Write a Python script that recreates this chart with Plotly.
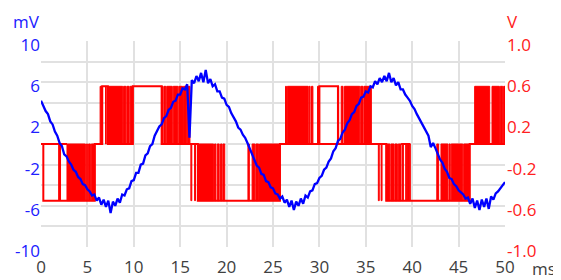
import plotly.graph_objects as go

# ---------------- data ----------------
# blue trace (mV), sampled every 0.25 ms from 0 to 50 ms
blue_dt = 0.25
blue_mv = [
    4.2, 3.7, 3.2, 2.9, 2.2, 1.9, 1.2, 0.8, 0.1, -0.2,
    -1.0, -1.2, -1.7, -2.0, -2.5, -2.7, -3.2, -3.4, -3.9, -4.0,
    -4.4, -4.6, -5.0, -4.9, -5.5, -5.2, -5.9, -5.4, -6.1, -5.5,
    -6.7, -5.6, -6.0, -5.3, -5.7, -4.9, -5.0, -4.4, -4.3, -3.6,
    -3.5, -2.8, -2.8, -2.0, -1.9, -1.1, -0.9, -0.2, 0.0, 0.8,
    1.2, 1.7, 1.9, 2.5, 2.7, 3.3, 3.5, 4.1, 4.2, 4.8,
    4.8, 5.4, 5.3, 5.8, 0.6, 6.2, 5.9, 6.6, 6.1, 6.9,
    6.0, 7.2, 5.9, 6.3, 5.6, 5.8, 5.1, 5.1, 4.5, 4.4,
    3.8, 3.6, 3.0, 2.6, 2.2, 1.6, 1.4, 0.9, 0.6, 0.1,
    -0.5, -1.1, -1.6, -2.1, -2.3, -2.9, -3.0, -3.6, -3.7, -4.2,
    -4.3, -4.8, -4.9, -5.3, -5.1, -5.7, -5.4, -6.1, -5.5, -6.4,
    -5.6, -6.0, -5.3, -5.8, -5.0, -5.2, -4.6, -4.5, -3.9, -3.8,
    -3.3, -3.1, -2.5, -2.3, -1.7, -1.4, -0.7, -0.4, 0.3, 0.5,
    1.1, 1.4, 2.0, 2.3, 2.9, 3.1, 3.7, 3.9, 4.5, 4.6,
    5.1, 5.0, 5.6, 5.5, 6.1, 5.8, 6.4, 6.0, 6.6, 6.1,
    6.9, 6.0, 6.4, 5.7, 6.0, 5.3, 5.3, 4.8, 4.5, 4.2,
    3.7, 3.4, 2.9, 2.5, 2.0, 1.6, 1.2, 0.8, -0.3, 0.1,
    -0.4, -1.0, -1.5, -1.8, -2.4, -2.7, -3.3, -3.4, -3.9, -4.1,
    -4.5, -4.7, -4.9, -5.3, -5.2, -5.8, -5.3, -6.2, -5.5, -6.4,
    -5.4, -6.1, -5.3, -6.3, -5.1, -5.4, -4.8, -4.6, -4.3, -4.0,
    -3.7,
]
blue_t = [i * blue_dt for i in range(len(blue_mv))]

# red trace (V): levels and step changes (time ms, level V)
red_hi = 0.56
red_lo = -0.55
red_step_t = [0, 0.25, 1.95, 2.05, 5.8, 6.6, 7.2, 9.9, 13.0, 16.9, 25.75, 30.0, 32.0, 37.2, 46.2, 50]
red_step_v = [0, red_lo, 0, red_lo, 0, red_hi, 0, red_hi, 0, red_lo, 0, red_hi, 0, red_lo, 0, 0]

# extra level traces seen alongside the step (start ms, end ms, level V)
red_extra = [(0, 2.8, 0), (30.0, 32.0, 0), (38.8, 39.8, 0)]

# dense switching intervals (start ms, end ms): negative half (0 .. lo)
red_neg_bands = [
    (2.8, 4.78), (4.88, 5.03), (5.13, 5.32), (5.42, 5.8),
    (16.15, 16.25), (16.55, 16.65), (16.9, 18.6), (18.7, 18.85), (19.0, 19.2), (19.35, 19.5), (19.6, 19.8),
    (22.3, 22.45), (22.75, 23.05), (23.15, 23.45), (23.55, 25.75),
    (36.35, 36.45), (36.65, 36.75), (37.2, 37.6), (37.7, 38.05), (38.15, 38.4), (38.5, 38.8),
    (38.95, 39.05), (39.3, 39.4), (39.5, 39.6), (39.7, 39.8),
    (42.65, 42.85), (43.1, 43.85), (43.97, 44.1), (44.2, 45.45), (45.55, 46.2),
]
# positive half (0 .. hi)
red_pos_bands = [
    (6.37, 6.6), (6.95, 7.03), (7.2, 8.8), (8.9, 9.15), (9.25, 9.5), (9.6, 9.9),
    (13.0, 13.15), (13.25, 13.45), (13.55, 14.15), (14.25, 14.75), (14.85, 15.25), (15.35, 15.7), (15.8, 16.05),
    (26.35, 26.45), (26.55, 28.8), (28.9, 29.0), (29.15, 29.3), (29.8, 29.9),
    (32.0, 32.08), (32.35, 32.55), (32.7, 34.35), (34.45, 34.7), (34.8, 35.6),
    (46.73, 48.35), (48.6, 49.4), (49.5, 49.75), (49.85, 50.0),
]

x_ticks = [0, 5, 10, 15, 20, 25, 30, 35, 40, 45, 50]
mv_ticks = [-10, -8, -6, -4, -2, 0, 2, 4, 6, 8, 10]
mv_text = ["-10", "", "-6", "", "-2", "", "2", "", "6", "", "10"]
v_ticks = [-1.0, -0.8, -0.6, -0.4, -0.2, 0, 0.2, 0.4, 0.6, 0.8, 1.0]
v_text = ["-1.0", "", "-0.6", "", "-0.2", "", "0.2", "", "0.6", "", "1.0"]

# ---------------- figure ----------------
BLUE = "#0000ff"
RED = "#ff0000"
FONT = "Open Sans"
FS = 17

bx, by = [], []
for t0, t1 in red_neg_bands:
    bx += [t0, t1, t1, t0, t0, None]
    by += [red_lo, red_lo, 0, 0, red_lo, None]
for t0, t1 in red_pos_bands:
    bx += [t0, t1, t1, t0, t0, None]
    by += [0, 0, red_hi, red_hi, 0, None]

ex, ey = [], []
for t0, t1, v in red_extra:
    ex += [t0, t1, None]
    ey += [v, v, None]

fig = go.Figure()
fig.add_trace(go.Scatter(x=red_step_t, y=red_step_v, mode="lines", line=dict(color=RED, width=2, shape="hv"),
                         yaxis="y", showlegend=False, hoverinfo="skip"))
fig.add_trace(go.Scatter(x=ex, y=ey, mode="lines", line=dict(color=RED, width=2),
                         yaxis="y", showlegend=False, hoverinfo="skip"))
fig.add_trace(go.Scatter(x=bx, y=by, mode="lines", fill="toself", fillcolor=RED,
                         line=dict(color=RED, width=1), yaxis="y", showlegend=False, hoverinfo="skip"))
fig.add_trace(go.Scatter(x=blue_t, y=blue_mv, mode="lines", line=dict(color=BLUE, width=2.3),
                         yaxis="y2", showlegend=False))

# the page body adds an 8px margin, so the figure is 8px smaller than the window
fig.update_layout(
    width=553, height=272,
    margin=dict(l=33, r=56, t=33, b=33),
    paper_bgcolor="white", plot_bgcolor="white",
    font=dict(family=FONT, size=FS),
    xaxis=dict(range=[0, 50], tickvals=x_ticks, showgrid=True, gridcolor="#e1e1e1", gridwidth=2,
               zeroline=False, showline=False, ticks="", automargin=False, ticklabelstandoff=8,
               tickfont=dict(color="#404040", size=FS)),
    yaxis=dict(range=[-1, 1], side="right", tickvals=v_ticks, ticktext=v_text,
               showgrid=True, gridcolor="#e1e1e1", gridwidth=2, zeroline=False, ticks="", automargin=False,
               tickfont=dict(color="#ff2020", size=FS), ticklabelshift=4, ticklabelstandoff=1),
    yaxis2=dict(range=[-10, 10], overlaying="y", side="left", tickvals=mv_ticks, ticktext=mv_text,
                showgrid=False, zeroline=False, ticks="", automargin=False,
                tickfont=dict(color="#2020ff", size=FS), ticklabelshift=4, ticklabelstandoff=0),
    annotations=[
        dict(text="mV", xref="paper", yref="paper", x=0, xshift=-15, y=1.0, yshift=20, xanchor="center", yanchor="middle",
             showarrow=False, font=dict(color="#2020ff", size=FS, family=FONT)),
        dict(text="V", xref="paper", yref="paper", x=1.0, xshift=7, y=1.0, yshift=20, xanchor="center", yanchor="middle",
             showarrow=False, font=dict(color="#ff2020", size=FS, family=FONT)),
        dict(text="ms", xref="paper", yref="paper", x=1.0, xshift=39, y=0, yshift=-21, xanchor="center", yanchor="middle",
             showarrow=False, borderpad=0, font=dict(color="#404040", size=FS, family=FONT)),
    ],
)

fig.write_html("out.html")
